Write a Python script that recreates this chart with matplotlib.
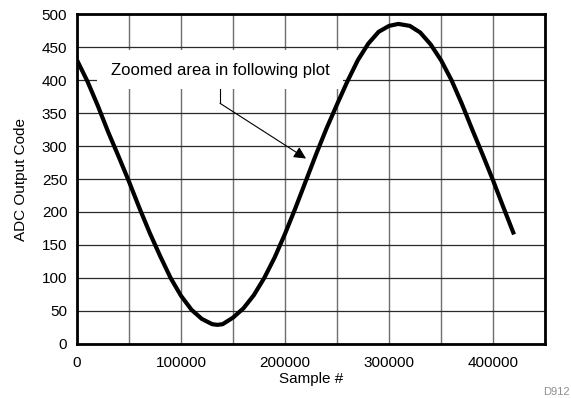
import numpy as np
import matplotlib.pyplot as plt
from matplotlib.ticker import MultipleLocator

plt.rcParams['font.family'] = ['Liberation Sans', 'DejaVu Sans']

# values
sample = [0, 10000, 20000, 30000, 40000, 50000, 60000, 70000, 80000, 90000,
          100000, 110000, 120000, 130000, 135000, 140000, 150000, 160000, 170000,
          180000, 190000, 200000, 210000, 220000, 230000, 240000, 250000, 260000,
          270000, 280000, 290000, 300000, 309000, 320000, 330000, 340000, 350000,
          360000, 370000, 380000, 390000, 400000, 410000, 420200]
code = [430, 398, 361, 321, 284, 246, 206, 168, 133, 100,
        73, 52, 38, 30, 29, 30, 40, 54, 74,
        100, 131, 167, 206, 247, 288, 327, 363, 398,
        430, 455, 473, 482, 485, 482, 472, 454, 430,
        400, 364, 325, 287, 248, 207, 166]

note_text = 'Zoomed area in following plot'
note_box = [19200, 255800, 386, 445]   # x0, x1, y0, y1
note_elbow = (137500, 364.7)
note_tip = (220200, 281)

fig = plt.figure(figsize=(5.71, 3.98), dpi=100)
ax = fig.add_axes([0.1349, 0.1357, 0.8196, 0.8291])

ax.plot(sample, code, color='black', lw=3.0, zorder=4, solid_capstyle='butt')

ax.set_xlim(0, 450000)
ax.set_ylim(0, 500)
ax.xaxis.set_major_locator(MultipleLocator(100000))
ax.xaxis.set_minor_locator(MultipleLocator(50000))
ax.yaxis.set_major_locator(MultipleLocator(50))
ax.grid(True, which='both', axis='x', color='#6e6e6e', lw=1.0, zorder=1)
ax.grid(True, which='major', axis='y', color='#2a2a2a', lw=0.9, zorder=1)
ax.set_axisbelow(True)
ax.tick_params(which='both', length=0, labelsize=11)
ax.tick_params(axis='y', pad=7)
ax.tick_params(axis='x', pad=9)
for s in ax.spines.values():
    s.set_linewidth(2.0)
    s.set_zorder(5)

ax.set_xlabel('Sample #', fontsize=11, labelpad=1)
ax.set_ylabel('ADC Output Code', fontsize=11, labelpad=10)

# white label box hiding the grid
ax.fill_between([note_box[0], note_box[1]], note_box[2], note_box[3],
                color='white', lw=0, zorder=2)
ax.text((note_box[0] + note_box[1]) / 2, 415, note_text, fontsize=12,
        ha='center', va='center', zorder=3)
ax.plot([note_elbow[0], note_elbow[0]], [note_box[2], note_elbow[1]],
        color='black', lw=0.8, zorder=3)
ax.annotate('', xy=note_tip, xytext=note_elbow,
            arrowprops=dict(arrowstyle='-|>', color='black', lw=0.8,
                            mutation_scale=18, shrinkA=0, shrinkB=0),
            zorder=3)

fig.text(0.974, 0.015, 'D912', color='#909090', fontsize=8,
         ha='center', va='center')

fig.savefig('out.png', dpi=100)
